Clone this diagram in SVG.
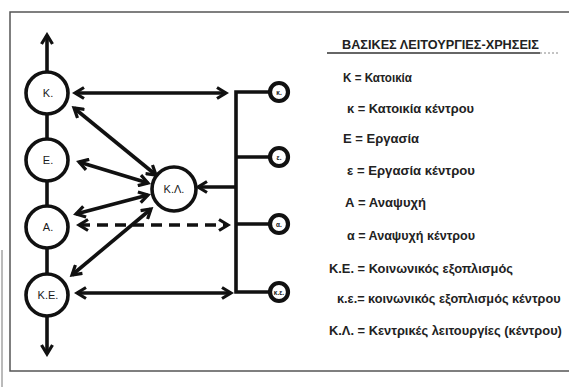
<svg xmlns="http://www.w3.org/2000/svg" width="569" height="387" viewBox="0 0 569 387">
<style>
.ln{stroke:#111;stroke-width:3.6;fill:none}
.nd{stroke:#111;stroke-width:3.6;fill:#fff}
.sm{stroke:#111;stroke-width:4.2;fill:#fff}
.nl{font-family:"Liberation Sans",Arial,sans-serif;font-size:11px;fill:#1a1a1a;text-anchor:middle}
.sl{font-family:"Liberation Sans",Arial,sans-serif;font-size:6.5px;font-weight:bold;fill:#111;text-anchor:middle}
.lg{font-family:"Liberation Sans",Arial,sans-serif;font-size:13.5px;font-weight:bold;fill:#222}
</style>
<defs>
<marker id="ah" markerUnits="userSpaceOnUse" markerWidth="14" markerHeight="14" viewBox="0 0 14 14" refX="11" refY="7" orient="auto-start-reverse">
<path d="M2,1.5 L11,7 L2,12.5" fill="none" stroke="#111" stroke-width="3.2"/>
</marker>
</defs>
<rect width="569" height="387" fill="#fff"/>
<path d="M575,12 H10 V371 H575" fill="none" stroke="#555" stroke-width="1.5"/>
<line x1="2" y1="250" x2="2" y2="387" stroke="#777" stroke-width="1"/>
<g id="connectors">
<line class="ln" x1="47" y1="72" x2="47" y2="35" marker-end="url(#ah)"/>
<line class="ln" x1="47" y1="114" x2="47" y2="139"/>
<line class="ln" x1="47" y1="181" x2="47" y2="206"/>
<line class="ln" x1="47" y1="248" x2="47" y2="274"/>
<line class="ln" x1="47" y1="316" x2="47" y2="354" marker-end="url(#ah)"/>
<path class="ln" d="M270,92 H236 V292 H270 M236,157 H270 M236,224 H270"/>
<line class="ln" x1="75" y1="93" x2="226" y2="93" marker-start="url(#ah)" marker-end="url(#ah)"/>
<line class="ln" x1="74" y1="108" x2="156" y2="175" marker-start="url(#ah)" marker-end="url(#ah)"/>
<line class="ln" x1="79" y1="162" x2="148" y2="183" marker-start="url(#ah)" marker-end="url(#ah)"/>
<line class="ln" x1="76" y1="214" x2="148" y2="195" marker-start="url(#ah)" marker-end="url(#ah)"/>
<line class="ln" x1="151" y1="209" x2="72" y2="275" marker-start="url(#ah)" marker-end="url(#ah)"/>
<line class="ln" x1="79" y1="225" x2="228" y2="225" stroke-dasharray="11 7" marker-start="url(#ah)" marker-end="url(#ah)"/>
<line class="ln" x1="77" y1="293" x2="231" y2="293" marker-start="url(#ah)" marker-end="url(#ah)"/>
<line class="ln" x1="236" y1="187" x2="198" y2="187" marker-end="url(#ah)"/>
</g>
<g id="node-K"><circle class="nd" cx="47" cy="93" r="21"/><text class="nl" x="48" y="97">Κ.</text></g>
<g id="node-E"><circle class="nd" cx="47" cy="160" r="21"/><text class="nl" x="48" y="164">Ε.</text></g>
<g id="node-A"><circle class="nd" cx="47" cy="227" r="21"/><text class="nl" x="48" y="231">Α.</text></g>
<g id="node-KE"><circle class="nd" cx="47" cy="295" r="21"/><text class="nl" x="48" y="299">Κ.Ε.</text></g>
<g id="node-KL"><circle class="nd" cx="174" cy="189" r="22"/><text class="nl" x="174" y="193">Κ.Λ.</text></g>
<g id="node-k"><circle class="sm" cx="279" cy="92" r="9"/><text class="sl" x="279" y="94.5">κ.</text></g>
<g id="node-e"><circle class="sm" cx="279" cy="157" r="9"/><text class="sl" x="279" y="159.5">ε.</text></g>
<g id="node-a"><circle class="sm" cx="279" cy="224" r="9"/><text class="sl" x="279" y="226.5">α.</text></g>
<g id="node-ke"><circle class="sm" cx="279" cy="292" r="9"/><text class="sl" x="279" y="294.5">κ.ε.</text></g>
<g id="legend">
<text class="lg" x="342" y="49" textLength="197" lengthAdjust="spacingAndGlyphs">ΒΑΣΙΚΕΣ ΛΕΙΤΟΥΡΓΙΕΣ-ΧΡΗΣΕΙΣ</text>
<line x1="327" y1="53" x2="540" y2="53" stroke="#333" stroke-width="1.3"/>
<line x1="540" y1="53" x2="558" y2="53" stroke="#888" stroke-width="1" stroke-dasharray="2 2"/>
<text class="lg" x="343" y="82" textLength="69" lengthAdjust="spacingAndGlyphs">Κ = Κατοικία</text>
<text class="lg" x="347" y="113" textLength="127" lengthAdjust="spacingAndGlyphs">κ = Κατοικία κέντρου</text>
<text class="lg" x="343" y="143" textLength="76" lengthAdjust="spacingAndGlyphs">Ε = Εργασία</text>
<text class="lg" x="347" y="175" textLength="128" lengthAdjust="spacingAndGlyphs">ε =  Εργασία κέντρου</text>
<text class="lg" x="345" y="207" textLength="81" lengthAdjust="spacingAndGlyphs">Α = Αναψυχή</text>
<text class="lg" x="347" y="240" textLength="128" lengthAdjust="spacingAndGlyphs">α = Αναψυχή κέντρου</text>
<text class="lg" x="329" y="273" textLength="184" lengthAdjust="spacingAndGlyphs">Κ.Ε. = Κοινωνικός εξοπλισμός</text>
<text class="lg" transform="translate(337,303) scale(0.85,1)" x="0" y="0" textLength="263" lengthAdjust="spacingAndGlyphs">κ.ε.= κοινωνικός εξοπλισμός κέντρου</text>
<text class="lg" transform="translate(329,335) scale(0.85,1)" x="0" y="0" textLength="274" lengthAdjust="spacingAndGlyphs">Κ.Λ. = Κεντρικές λειτουργίες (κέντρου)</text>
</g>
</svg>
